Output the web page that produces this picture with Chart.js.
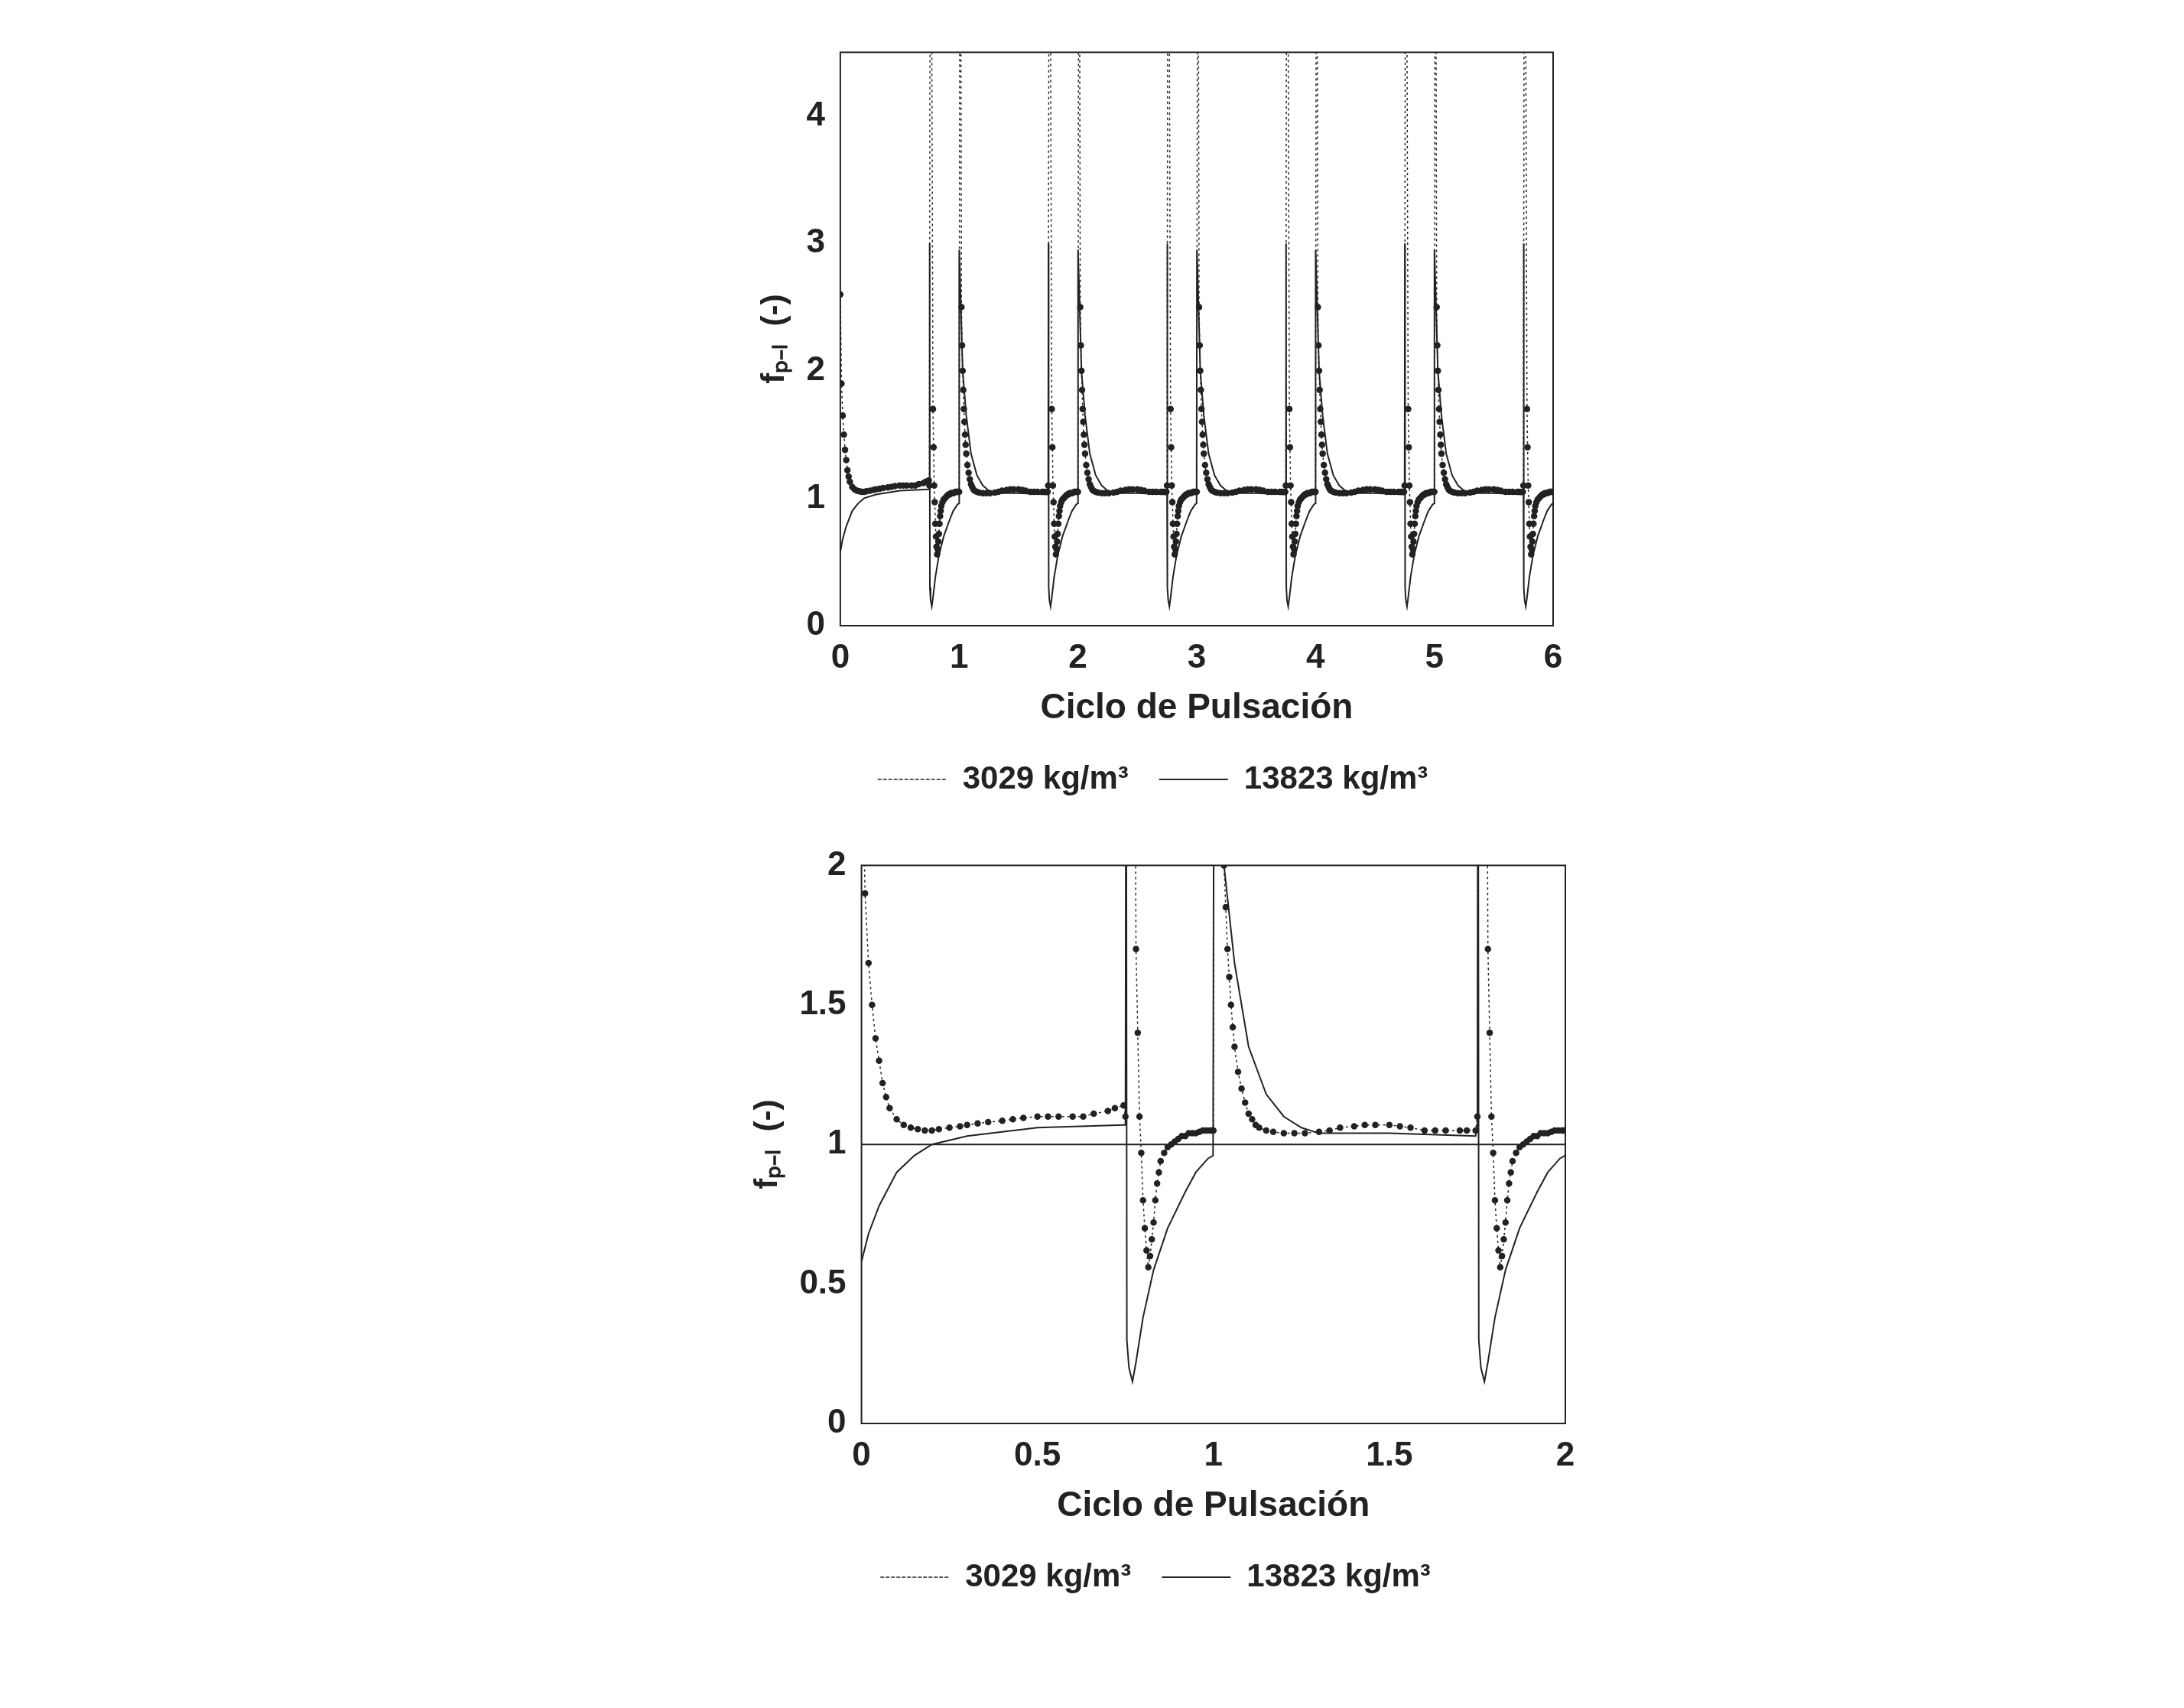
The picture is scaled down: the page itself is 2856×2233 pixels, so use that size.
<!DOCTYPE html>
<html>
<head>
<meta charset="utf-8">
<script src="https://cdn.jsdelivr.net/npm/chart.js@4.4.0/dist/chart.umd.min.js"></script>
<style>
  body { margin: 0; background: #fff; }
  .box { position: absolute; }
</style>
</head>
<body>
<div class="box" style="left:984px; top:30px; width:1087px; height:1020px;"><canvas id="topChart"></canvas></div>
<div class="box" style="left:975px; top:1093px; width:1112px; height:1000px;"><canvas id="bottomChart"></canvas></div>
<script>
// ---- data ----
const labels = ["3029 kg/m\u00B3", "13823 kg/m\u00B3"];

// first cycle (0 .. 0.75)
const firstDenseX = [0, 0.01, 0.02, 0.03, 0.04, 0.05, 0.06, 0.07, 0.08, 0.1, 0.12, 0.14, 0.16, 0.18, 0.2, 0.22, 0.25, 0.28, 0.3, 0.33, 0.36, 0.4, 0.43, 0.46, 0.5, 0.53, 0.56, 0.6, 0.63, 0.66, 0.7, 0.72, 0.745];
const firstDenseY = [2.6, 1.9, 1.65, 1.5, 1.38, 1.3, 1.22, 1.17, 1.13, 1.09, 1.07, 1.06, 1.055, 1.05, 1.05, 1.055, 1.06, 1.065, 1.07, 1.075, 1.08, 1.085, 1.09, 1.095, 1.1, 1.1, 1.1, 1.1, 1.1, 1.11, 1.12, 1.13, 1.14];
const firstSolidX = [0, 0.02, 0.05, 0.1, 0.15, 0.2, 0.3, 0.5, 0.745];
const firstSolidY = [0.58, 0.68, 0.78, 0.9, 0.96, 1.0, 1.03, 1.06, 1.07];

// pulse at k-0.25 .. k (dip), offsets from k-0.25
const dipDenseX = [0, 0.005, 0.02, 0.03, 0.035, 0.04, 0.045, 0.05, 0.055, 0.06, 0.065, 0.07, 0.075, 0.08, 0.085, 0.09, 0.095, 0.1, 0.11, 0.12, 0.13, 0.14, 0.15, 0.16, 0.17, 0.18, 0.19, 0.2, 0.21, 0.22, 0.23, 0.24, 0.245];
const dipDenseY = [1.1, 4.6, 4.6, 1.7, 1.4, 1.1, 0.97, 0.8, 0.7, 0.62, 0.56, 0.6, 0.66, 0.72, 0.8, 0.86, 0.9, 0.94, 0.97, 0.99, 1.0, 1.01, 1.02, 1.03, 1.03, 1.04, 1.04, 1.04, 1.045, 1.05, 1.05, 1.05, 1.05];
const dipSolidX = [0, 0.002, 0.004, 0.01, 0.02, 0.03, 0.05, 0.08, 0.12, 0.17, 0.2, 0.235, 0.249];
const dipSolidY = [1.07, 3.0, 0.3, 0.2, 0.15, 0.22, 0.38, 0.55, 0.7, 0.83, 0.9, 0.95, 0.96];

// pulse at k .. k+0.75 (decay), offsets from k
const decayDenseX = [0, 0.005, 0.015, 0.02, 0.025, 0.03, 0.035, 0.04, 0.045, 0.05, 0.055, 0.06, 0.07, 0.08, 0.09, 0.1, 0.11, 0.12, 0.13, 0.15, 0.17, 0.2, 0.23, 0.26, 0.3, 0.33, 0.36, 0.4, 0.43, 0.46, 0.5, 0.53, 0.56, 0.6, 0.63, 0.66, 0.7, 0.72, 0.745];
const decayDenseY = [1.05, 4.6, 4.6, 2.5, 2.2, 2.0, 1.85, 1.7, 1.6, 1.5, 1.42, 1.35, 1.26, 1.2, 1.15, 1.11, 1.09, 1.07, 1.06, 1.05, 1.045, 1.04, 1.04, 1.04, 1.045, 1.05, 1.06, 1.065, 1.07, 1.07, 1.07, 1.065, 1.06, 1.05, 1.05, 1.05, 1.05, 1.05, 1.05];
const decaySolidX = [0, 0.002, 0.03, 0.06, 0.1, 0.15, 0.2, 0.25, 0.3, 0.5, 0.745];
const decaySolidY = [0.96, 2.95, 2.0, 1.65, 1.35, 1.18, 1.1, 1.06, 1.04, 1.04, 1.03];

const cycleStarts = [1, 2, 3, 4, 5];
const xTicksTop = [0, 1, 2, 3, 4, 5, 6];
const yTicksTop = [0, 1, 2, 3, 4];
const xTicksBottom = [0, 0.5, 1, 1.5, 2];
const yTicksBottom = [0, 0.5, 1, 1.5, 2];
const refLineY = 1;

function pts(xs, ys, off) {
  return xs.map((x, i) => ({ x: x + off, y: ys[i] }));
}

function buildSeries(firstX, firstY, dipX, dipY, decX, decY, maxX) {
  let out = pts(firstX, firstY, 0);
  cycleStarts.forEach((k) => {
    if (k - 0.25 < maxX) out = out.concat(pts(dipX, dipY, k - 0.25));
    if (k < maxX) out = out.concat(pts(decX, decY, k));
  });
  if (maxX > 5.75) out = out.concat(pts(dipX, dipY, 5.75));
  return out.filter((p) => p.x <= maxX + 1e-9);
}

const frame = {
  id: "frame",
  afterDraw(chart) {
    const a = chart.chartArea, c = chart.ctx;
    c.save();
    c.strokeStyle = "#222";
    c.lineWidth = 2;
    c.strokeRect(a.left, a.top, a.right - a.left, a.bottom - a.top);
    c.restore();
  },
};

function createChart(el, dense, solid, xTicks, yTicks, yMax, xMax, extra) {
  const font = { family: "'Liberation Sans Narrow', 'Liberation Sans', Arial", weight: "bold", size: 44 };
  const datasets = [
    {
      label: labels[0], data: dense, borderColor: "#222", backgroundColor: "#222",
      borderWidth: 1.5, borderDash: [3, 4], pointRadius: 3.5, pointHoverRadius: 0, tension: 0,
    },
    {
      label: labels[1], data: solid, borderColor: "#222", backgroundColor: "#222",
      borderWidth: 2, pointRadius: 0, tension: 0,
    },
  ];
  if (extra) datasets.push(extra);
  new Chart(el, {
    type: "line",
    data: { datasets },
    plugins: [frame],
    options: {
      responsive: true, maintainAspectRatio: false, animation: false,
      layout: { padding: { right: 40, top: 10 } },
      plugins: {
        tooltip: { enabled: false },
        legend: {
          position: "bottom",
          labels: {
            color: "#222", font: { ...font, size: 42 }, boxWidth: 90, boxHeight: 0, padding: 40,
            filter: (item) => item.datasetIndex < 2,
          },
        },
      },
      scales: {
        x: {
          type: "linear", min: 0, max: xMax,
          afterBuildTicks: (ax) => { ax.ticks = xTicks.map((v) => ({ value: v })); },
          grid: { display: false },
          ticks: { color: "#222", font, padding: 8, callback: (v) => String(v) },
          title: { display: true, text: "Ciclo de Pulsación", color: "#222", font: { ...font, size: 46 } },
        },
        y: {
          min: 0, max: yMax,
          afterBuildTicks: (ax) => { ax.ticks = yTicks.map((v) => ({ value: v })); },
          grid: { display: false },
          ticks: { color: "#222", font, padding: 12, callback: (v) => String(v) },
          title: { display: true, text: "fₚ₋ₗ  (-)", color: "#222", font: { ...font, size: 42 } },
        },
      },
    },
  });
}

createChart(
  document.getElementById("topChart"),
  buildSeries(firstDenseX, firstDenseY, dipDenseX, dipDenseY, decayDenseX, decayDenseY, 6),
  buildSeries(firstSolidX, firstSolidY, dipSolidX, dipSolidY, decaySolidX, decaySolidY, 6),
  xTicksTop, yTicksTop, 4.5, 6, null
);

createChart(
  document.getElementById("bottomChart"),
  buildSeries(firstDenseX, firstDenseY, dipDenseX, dipDenseY, decayDenseX, decayDenseY, 2),
  buildSeries(firstSolidX, firstSolidY, dipSolidX, dipSolidY, decaySolidX, decaySolidY, 2),
  xTicksBottom, yTicksBottom, 2, 2,
  { label: "ref", data: [{ x: 0, y: refLineY }, { x: 2, y: refLineY }], borderColor: "#222", borderWidth: 2, pointRadius: 0 }
);
</script>
</body>
</html>
